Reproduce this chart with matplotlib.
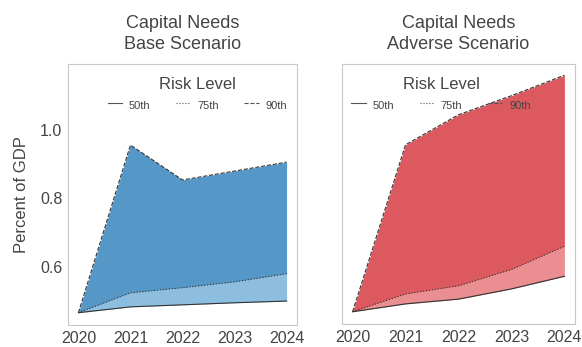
import matplotlib.pyplot as plt
from matplotlib.lines import Line2D

years = [2020, 2021, 2022, 2023, 2024]

base_p50 = [0.466, 0.483, 0.489, 0.495, 0.500]
base_p75 = [0.466, 0.524, 0.539, 0.556, 0.580]
base_p90 = [0.466, 0.956, 0.854, 0.880, 0.906]

adv_p50 = [0.466, 0.489, 0.503, 0.533, 0.570]
adv_p75 = [0.466, 0.518, 0.542, 0.590, 0.658]
adv_p90 = [0.466, 0.956, 1.044, 1.100, 1.160]

titles = ["Capital Needs\nBase Scenario", "Capital Needs\nAdverse Scenario"]
levels = ["50th", "75th", "90th"]
styles = ["-", ":", "--"]

plt.rcParams['font.family'] = ['Liberation Sans', 'DejaVu Sans']
txt = "#444444"

fig = plt.figure(figsize=(5.82, 3.47), dpi=100)
ax1 = fig.add_axes([68/582, 1 - 325/347, 229/582, 261/347])
ax2 = fig.add_axes([342/582, 1 - 324/347, 233/582, 260/347], sharey=ax1)

panels = [
    (ax1, base_p50, base_p75, base_p90, "#5597c6", "#8ebedf", 0.565),
    (ax2, adv_p50, adv_p75, adv_p90, "#dc5a5f", "#ea8e92", 0.425),
]

for i, (ax, p50, p75, p90, dark, light, lx) in enumerate(panels):
    ax.fill_between(years, p50, p75, color=light, lw=0)
    ax.fill_between(years, p75, p90, color=dark, lw=0)
    for vals, ls in zip([p50, p75, p90], styles):
        ax.plot(years, vals, color="#333333", lw=0.8, ls=ls)
    ax.set_title(titles[i], fontsize=13, color=txt, pad=11, linespacing=1.25)
    ax.set_xticks(years)
    ax.tick_params(length=0, labelsize=11.5, labelcolor=txt, pad=4)
    for s in ax.spines.values():
        s.set_color("#c8c8c8")
    handles = [Line2D([], [], color="#555555", lw=0.8, ls=ls) for ls in styles]
    leg = ax.legend(handles, levels, title="Risk Level", ncol=3, frameon=False,
                    loc="upper center", bbox_to_anchor=(lx, 0.975),
                    fontsize=8, title_fontsize=12, handlelength=1.3,
                    handleheight=1.8, columnspacing=2.3, handletextpad=0.6,
                    borderaxespad=0.2)
    for t in leg.get_texts():
        t.set_color(txt)
    leg.get_title().set_color(txt)

ax1.set_ylim(0.43, 1.193)
ax1.set_yticks([0.6, 0.8, 1.0])
ax1.set_ylabel("Percent of GDP", fontsize=12, color=txt, labelpad=8)
ax2.tick_params(axis='y', labelleft=False)

fig.savefig("out.png", dpi=100)
